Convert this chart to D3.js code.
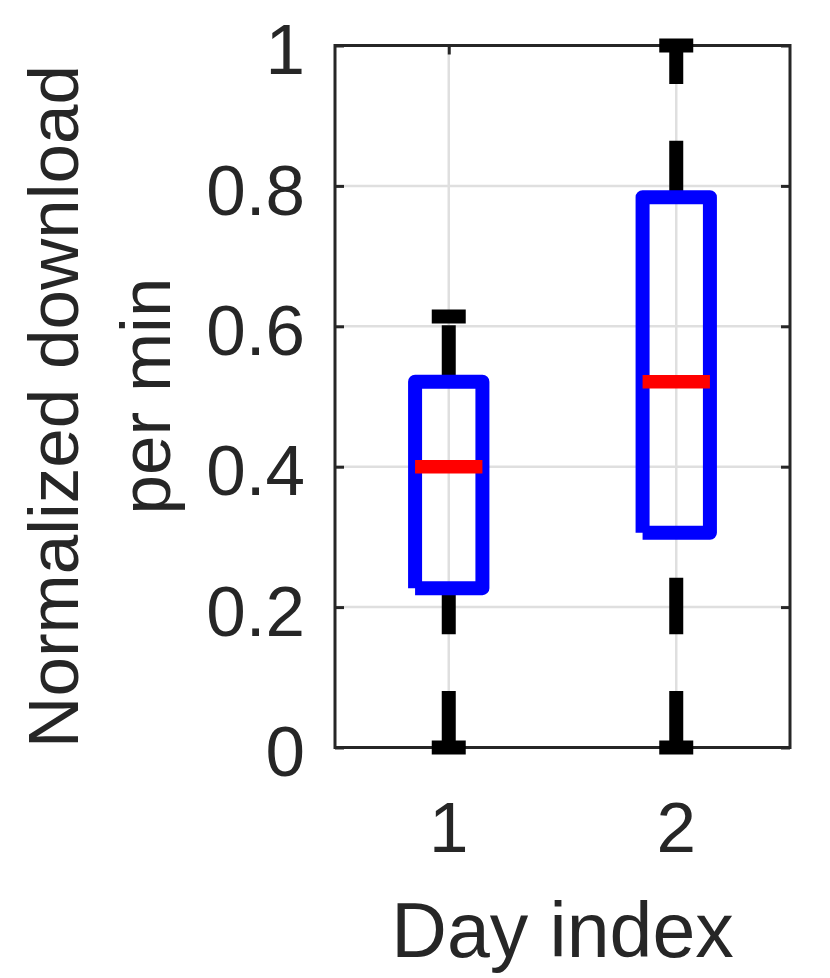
<!DOCTYPE html>
<html>
<head>
<meta charset="utf-8">
<script src="https://cdn.jsdelivr.net/npm/d3@7"></script>
<style>
  html, body { margin: 0; padding: 0; background: #ffffff; }
  svg { display: block; }
  text { font-family: "Liberation Sans", Arial, Helvetica, sans-serif; fill: #262626; }
</style>
</head>
<body>
<svg id="chart" width="830" height="978"></svg>
<script>
// ---- data ----
const categories   = [1, 2];
const whiskerLow   = [0.000, 0.000];
const q1Values     = [0.227, 0.306];
const medianValues = [0.400, 0.521];
const q3Values     = [0.521, 0.784];
const whiskerHigh  = [0.614, 1.000];
const yTicks       = [0, 0.2, 0.4, 0.6, 0.8, 1];
const yTickLabels  = ["0", "0.2", "0.4", "0.6", "0.8", "1"];
const xTickLabels  = ["1", "2"];
const xLabel       = "Day index";
const yLabelLines  = ["Normalized download", "per min"];

(function () {
// ---- layout ----
const svg = d3.select("#chart");
const pLeft = 335, pRight = 790, pTop = 45.5, pBottom = 747.5;
const x = d3.scaleLinear().domain([0.5, 2.5]).range([pLeft, pRight]);
const y = d3.scaleLinear().domain([0, 1]).range([pBottom, pTop]);
const boxHalf = 0.148, capHalf = 0.0747;
const axisColor = "#262626";

const boxes = categories.map((c, i) => ({
  c, lo: whiskerLow[i], q1: q1Values[i], med: medianValues[i], q3: q3Values[i], hi: whiskerHigh[i]
}));

// grid
const grid = svg.append("g");
grid.selectAll("line.gy").data(yTicks).join("line")
  .attr("x1", pLeft).attr("x2", pRight)
  .attr("y1", d => y(d)).attr("y2", d => y(d))
  .attr("stroke", "#dfdfdf").attr("stroke-width", 2.5);
grid.selectAll("line.gx").data(categories).join("line")
  .attr("x1", d => x(d)).attr("x2", d => x(d))
  .attr("y1", pTop).attr("y2", pBottom)
  .attr("stroke", "#dfdfdf").attr("stroke-width", 2.5);

// axes (box with inward ticks on all sides)
const axes = svg.append("g");
const tickLen = 9;
const yAxisL = d3.axisLeft(y).tickValues(yTicks).tickFormat("").tickSizeInner(-tickLen).tickSizeOuter(0);
const yAxisR = d3.axisRight(y).tickValues(yTicks).tickFormat("").tickSizeInner(-tickLen).tickSizeOuter(0);
const xAxisB = d3.axisBottom(x).tickValues(categories).tickFormat("").tickSizeInner(-tickLen).tickSizeOuter(0);
const xAxisT = d3.axisTop(x).tickValues(categories).tickFormat("").tickSizeInner(-tickLen).tickSizeOuter(0);
[[yAxisL, `translate(${pLeft},0)`], [yAxisR, `translate(${pRight},0)`],
 [xAxisB, `translate(0,${pBottom})`], [xAxisT, `translate(0,${pTop})`]].forEach(([ax, tr]) => {
  const g = axes.append("g").attr("transform", tr).call(ax);
  g.select(".domain").remove();
  g.selectAll(".tick line").attr("stroke", axisColor).attr("stroke-width", 3);
});
axes.append("rect")
  .attr("x", pLeft).attr("y", pTop)
  .attr("width", pRight - pLeft).attr("height", pBottom - pTop)
  .attr("fill", "none").attr("stroke", axisColor).attr("stroke-width", 3);

// tick labels
svg.append("g").selectAll("text").data(yTicks).join("text")
  .attr("x", pLeft - 30).attr("y", d => y(d)).attr("dy", "0.405em")
  .attr("text-anchor", "end").attr("font-size", 71)
  .text((d, i) => yTickLabels[i]);
svg.append("g").selectAll("text").data(categories).join("text")
  .attr("x", d => x(d)).attr("y", pBottom + 104)
  .attr("text-anchor", "middle").attr("font-size", 71)
  .text((d, i) => xTickLabels[i]);

// axis labels
svg.append("text")
  .attr("x", (pLeft + pRight) / 2).attr("y", 956.5)
  .attr("text-anchor", "middle").attr("font-size", 77)
  .text(xLabel);
svg.append("text")
  .attr("transform", "translate(77.5,406.5) rotate(-90)")
  .attr("text-anchor", "middle").attr("font-size", 71)
  .text(yLabelLines[0]);
svg.append("text")
  .attr("transform", "translate(170,396) rotate(-90)")
  .attr("text-anchor", "middle").attr("font-size", 71)
  .text(yLabelLines[1]);

// box plot marks
const marks = svg.append("g");
// whiskers (dashed)
marks.selectAll("line.wu").data(boxes).join("line")
  .attr("x1", d => x(d.c)).attr("x2", d => x(d.c))
  .attr("y1", d => y(d.q3)).attr("y2", d => y(d.hi))
  .attr("stroke", "#000").attr("stroke-width", 14).attr("stroke-dasharray", "56.5 56.7");
marks.selectAll("line.wl").data(boxes).join("line")
  .attr("x1", d => x(d.c)).attr("x2", d => x(d.c))
  .attr("y1", d => y(d.lo)).attr("y2", d => y(d.q1))
  .attr("stroke", "#000").attr("stroke-width", 14).attr("stroke-dasharray", "56.5 56.7");
// caps
marks.selectAll("line.cu").data(boxes).join("line")
  .attr("x1", d => x(d.c - capHalf)).attr("x2", d => x(d.c + capHalf))
  .attr("y1", d => y(d.hi)).attr("y2", d => y(d.hi))
  .attr("stroke", "#000").attr("stroke-width", 14);
marks.selectAll("line.cl").data(boxes).join("line")
  .attr("x1", d => x(d.c - capHalf)).attr("x2", d => x(d.c + capHalf))
  .attr("y1", d => y(d.lo)).attr("y2", d => y(d.lo))
  .attr("stroke", "#000").attr("stroke-width", 14);
// boxes (open polyline, round joins)
marks.selectAll("path.box").data(boxes).join("path")
  .attr("d", d => {
    const p = d3.path();
    p.moveTo(x(d.c - boxHalf), y(d.q1));
    p.lineTo(x(d.c - boxHalf), y(d.q3));
    p.lineTo(x(d.c + boxHalf), y(d.q3));
    p.lineTo(x(d.c + boxHalf), y(d.q1));
    p.lineTo(x(d.c - boxHalf), y(d.q1));
    return p.toString();
  })
  .attr("fill", "none").attr("stroke", "#0000ff").attr("stroke-width", 14)
  .attr("stroke-linejoin", "round").attr("stroke-linecap", "butt");
// medians
marks.selectAll("line.med").data(boxes).join("line")
  .attr("x1", d => x(d.c - boxHalf)).attr("x2", d => x(d.c + boxHalf))
  .attr("y1", d => y(d.med)).attr("y2", d => y(d.med))
  .attr("stroke", "#ff0000").attr("stroke-width", 13.5);
})();
</script>
</body>
</html>
